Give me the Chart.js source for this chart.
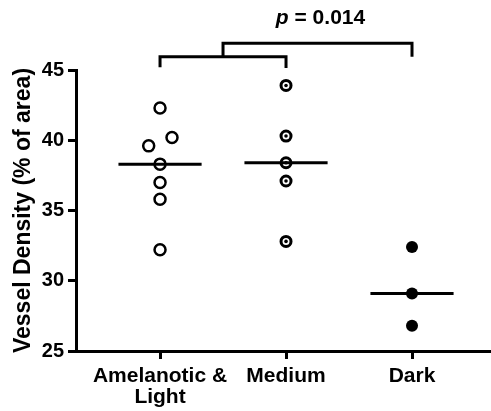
<!DOCTYPE html>
<html>
<head>
<meta charset="utf-8">
<script src="https://cdn.jsdelivr.net/npm/chart.js@4.4.1/dist/chart.umd.min.js"></script>
<style>
  body { margin: 0; background: #fff; }
  #wrap { width: 491px; height: 411px; }
</style>
</head>
<body>
<div id="wrap"><canvas id="myChart"></canvas></div>
<script>
const groups = [['Amelanotic &', 'Light'], 'Medium', 'Dark'];
const lightValues = [42.3, 40.2, 39.6, 38.3, 37.0, 35.8, 32.2];
const lightJitter = [0, 0.095, -0.09, 0, 0, 0, 0];
const mediumValues = [43.9, 40.3, 38.4, 37.1, 32.8];
const darkValues = [32.4, 29.1, 26.8];
const means = [38.3, 38.4, 29.1];
const yTicks = [25, 30, 35, 40, 45];
// bracket heights (left leg, bar, bar, right leg)
const innerBracket = [45.2, 45.95, 45.95, 45.15];
const outerBracket = [45.95, 46.9, 46.9, 45.95];
const pLabel = ['p', ' = 0.014'];

document.addEventListener('DOMContentLoaded', function() {
    const ctx = document.getElementById('myChart').getContext('2d');
    const FONT = '"Liberation Sans", Arial, sans-serif';

    Chart.defaults.font.family = FONT;
    Chart.defaults.font.weight = 'bold';
    Chart.defaults.font.size = 20;
    Chart.defaults.color = '#000';

    function meanLine(i) {
        return {
            type: 'line',
            data: [{x: i + 1 - 0.33, y: means[i]}, {x: i + 1 + 0.33, y: means[i]}],
            borderColor: '#000', borderWidth: 3, pointRadius: 0, order: 0
        };
    }

    function bracket(xs, ys) {
        return {
            type: 'line',
            data: ys.map((y, i) => ({x: xs[i], y: y})),
            borderColor: '#000', borderWidth: 3, pointRadius: 0,
            borderJoinStyle: 'miter', borderCapStyle: 'butt',
            clip: false, order: 0
        };
    }

    // p value text above the outer bracket
    const pText = {
        id: 'pText',
        afterDatasetsDraw(chart) {
            const xs = chart.scales.x, ys = chart.scales.y;
            const cx = xs.getPixelForValue(2.25) + 3;
            const by = ys.getPixelForValue(outerBracket[1]) - 19;
            const c = chart.ctx;
            c.save();
            c.fillStyle = '#000';
            c.textBaseline = 'alphabetic';
            c.font = 'italic bold 21px ' + FONT;
            const w1 = c.measureText(pLabel[0]).width;
            c.font = 'bold 21px ' + FONT;
            const w2 = c.measureText(pLabel[1]).width;
            let x = cx - (w1 + w2) / 2;
            c.font = 'italic bold 21px ' + FONT;
            c.fillText(pLabel[0], x, by);
            c.font = 'bold 21px ' + FONT;
            c.fillText(pLabel[1], x + w1, by);
            c.restore();
        }
    };

    new Chart(ctx, {
        type: 'scatter',
        data: {
            datasets: [
                meanLine(0), meanLine(1), meanLine(2),
                bracket([1, 1, 2, 2], innerBracket),
                bracket([1.5, 1.5, 3, 3], outerBracket),
                {
                    data: lightValues.map((v, i) => ({x: 1 + lightJitter[i], y: v})),
                    pointStyle: 'circle', pointRadius: 5.5, borderWidth: 2.5,
                    borderColor: '#000', backgroundColor: '#fff', order: 1
                },
                {
                    data: mediumValues.map(v => ({x: 2, y: v})),
                    pointStyle: 'circle', pointRadius: 1.8, borderWidth: 0,
                    borderColor: '#000', backgroundColor: '#000', order: 0
                },
                {
                    data: mediumValues.map(v => ({x: 2, y: v})),
                    pointStyle: 'circle', pointRadius: 5, borderWidth: 3,
                    borderColor: '#000', backgroundColor: '#fff', order: 1
                },
                {
                    data: darkValues.map(v => ({x: 3, y: v})),
                    pointStyle: 'circle', pointRadius: 6, borderWidth: 0,
                    borderColor: '#000', backgroundColor: '#000', order: 1
                }
            ]
        },
        options: {
            responsive: true,
            maintainAspectRatio: false,
            animation: false,
            layout: { autoPadding: false, padding: { top: 70, right: 0, left: 0, bottom: 0 } },
            plugins: { legend: { display: false }, tooltip: { enabled: false } },
            scales: {
                x: {
                    type: 'linear',
                    min: 0.333,
                    max: 3.627,
                    afterBuildTicks: s => { s.ticks = groups.map((g, i) => ({value: i + 1})); },
                    afterFit: s => { s.height = 60; },
                    ticks: {
                        callback: (v) => groups[v - 1],
                        padding: 7,
                        maxRotation: 0,
                        autoSkip: false,
                        font: { size: 21, weight: 'bold', lineHeight: 1.0 }
                    },
                    grid: { drawOnChartArea: false, color: '#000', lineWidth: 3, tickLength: 8 },
                    border: { color: '#000', width: 3 }
                },
                y: {
                    min: 25,
                    max: 45,
                    afterBuildTicks: s => { s.ticks = yTicks.map(v => ({value: v})); },
                    afterFit: s => { s.width = 76; },
                    ticks: { padding: 4, font: { size: 20, weight: 'bold' } },
                    grid: { drawOnChartArea: false, color: '#000', lineWidth: 3, tickLength: 8 },
                    border: { color: '#000', width: 3 },
                    title: {
                        display: true,
                        text: 'Vessel Density (% of area)',
                        font: { size: 23, weight: 'bold' },
                        padding: { top: 10, bottom: 0 }
                    }
                }
            }
        },
        plugins: [pText]
    });
});
</script>
</body>
</html>
